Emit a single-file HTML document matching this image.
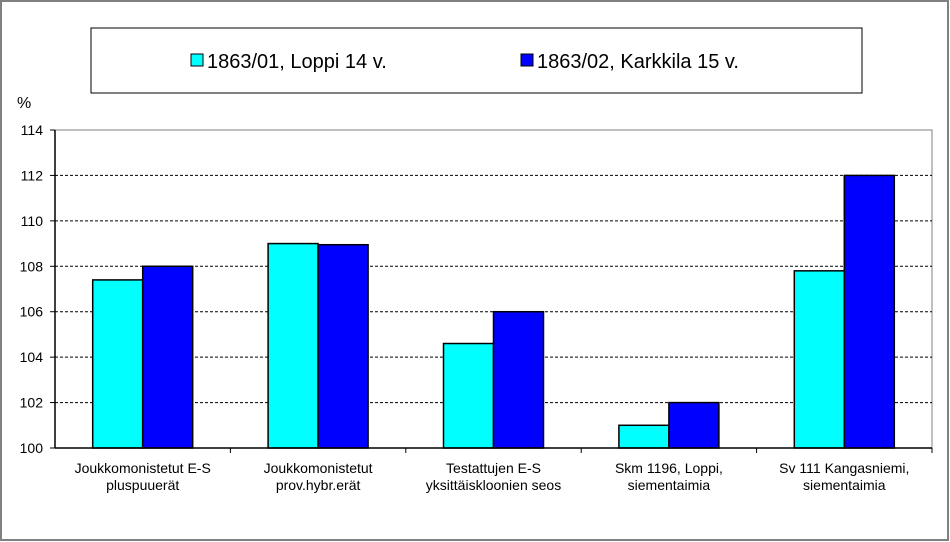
<!DOCTYPE html>
<html><head><meta charset="utf-8"><style>
body{margin:0;background:#fff}
svg{display:block;font-family:"Liberation Sans",Arial,sans-serif}
</style></head><body>
<svg id="c" width="950" height="542">
<rect x="1" y="1" width="947" height="539" fill="#fff" stroke="#808080" stroke-width="2"/>
<g>
<rect x="91" y="28" width="771" height="65" fill="#fff" stroke="#000"/>
<rect x="191" y="54" width="12" height="12" fill="#00ffff" stroke="#000"/>
<text x="207" y="68" font-size="20">1863/01, Loppi 14 v.</text>
<rect x="521" y="54" width="12" height="12" fill="#0000ff" stroke="#000"/>
<text x="537" y="68" font-size="20">1863/02, Karkkila 15 v.</text>
</g>
<text x="17" y="108" font-size="16">%</text>
<g id="plot"></g>
</svg>
<script>
const categories=[["Joukkomonistetut E-S","pluspuuerät"],["Joukkomonistetut","prov.hybr.erät"],["Testattujen E-S","yksittäiskloonien seos"],["Skm 1196, Loppi,","siementaimia"],["Sv 111 Kangasniemi,","siementaimia"]];
const loppi=[107.4,109,104.6,101,107.8];
const karkkila=[108,108.95,106,102,112];
const yTicks=[100,102,104,106,108,110,112,114];
const NS="http://www.w3.org/2000/svg";
const g=document.getElementById('plot');
const X0=55,X1=932,Y0=448,Y1=130,ymin=100,ymax=114;
const y=v=>Y0-(v-ymin)/(ymax-ymin)*(Y0-Y1);
const gw=(X1-X0)/categories.length;
const xc=i=>X0+gw*(i+0.5);
function mk(t,a){const e=document.createElementNS(NS,t);for(const k in a)e.setAttribute(k,a[k]);g.appendChild(e);return e;}
let e=mk('rect',{x:X0,y:Y1,width:X1-X0,height:Y0-Y1,fill:'#fff',stroke:'#808080','stroke-width':1});


yTicks.forEach(t=>{
 if(t>ymin&&t<ymax){const l=mk('line',{x1:X0,x2:X1,y1:y(t),y2:y(t),stroke:'#000','stroke-dasharray':'3,2','stroke-width':1});
 
 }
 const tk=mk('line',{x1:X0-5,x2:X0,y1:y(t),y2:y(t),stroke:'#000'});
 
 
 const tx=mk('text',{x:X0-12,y:y(t)+5,'text-anchor':'end','font-size':14});tx.textContent=t;
 
 
});
const bw=50;
categories.forEach((c,i)=>{
 const a=mk('rect',{x:xc(i)-bw,y:y(loppi[i]),width:bw,height:Y0-y(loppi[i]),fill:'#00ffff',stroke:'#000','stroke-width':1.5});
 
 
 const b=mk('rect',{x:xc(i),y:y(karkkila[i]),width:bw,height:Y0-y(karkkila[i]),fill:'#0000ff',stroke:'#000','stroke-width':1.5});
 
 
 const tk=mk('line',{x1:X0+gw*(i+1),x2:X0+gw*(i+1),y1:Y0,y2:Y0+5,stroke:'#000'});
 
 
 c.forEach((s,j)=>{const t=mk('text',{x:xc(i),y:473+j*17,'text-anchor':'middle','font-size':14});t.textContent=s;
 
 });
});
const ax=mk('line',{x1:X0,x2:X1,y1:Y0,y2:Y0,stroke:'#000','stroke-width':1.5});


const ay=mk('line',{x1:X0,x2:X0,y1:Y1,y2:Y0,stroke:'#000','stroke-width':1.5});


</script>
</body></html>
